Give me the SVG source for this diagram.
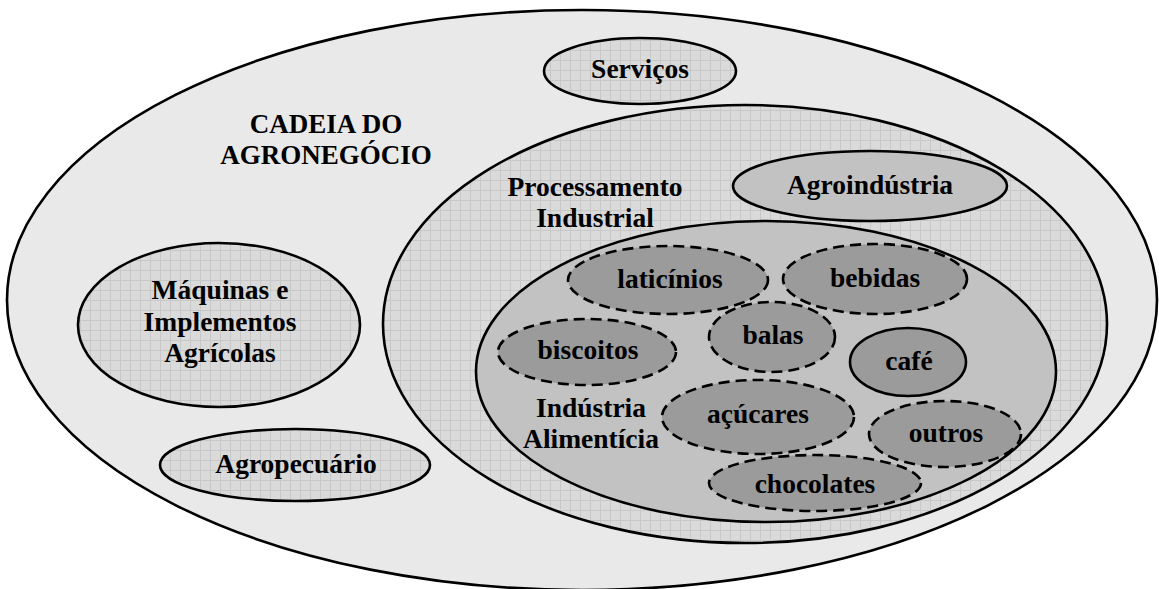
<svg xmlns="http://www.w3.org/2000/svg" width="1159" height="589" viewBox="0 0 1159 589">
<defs>
<pattern id="grid" width="10" height="10" patternUnits="userSpaceOnUse">
<rect width="10" height="10" fill="#dadada"/>
<path d="M0 0.5H10M0.5 0V10" stroke="#c8c8c8" stroke-width="1" fill="none"/>
</pattern>
<style>
.solid{stroke:#000;stroke-width:2.6}
.dash{stroke:#000;stroke-width:2.6;stroke-dasharray:11 6}
.outer{fill:#e9e9e9}
.gridf{fill:url(#grid)}
.mid{fill:#c2c2c2}
.dark{fill:#9b9b9b}
text{font-family:"Liberation Serif","Times New Roman",serif;font-weight:bold;font-size:27.5px;fill:#000;text-anchor:middle}
.title{font-size:27px}
</style>
</defs>
<rect width="1159" height="589" fill="#fff"/>
<g id="cadeia">
<ellipse class="outer solid" cx="582" cy="300" rx="575" ry="290"/>
<text class="title" x="326" y="133">CADEIA DO</text>
<text class="title" x="326" y="164">AGRONEGÓCIO</text>
</g>
<g id="servicos">
<ellipse class="gridf solid" cx="640" cy="71" rx="96" ry="33"/>
<text x="640" y="78">Serviços</text>
</g>
<g id="maquinas">
<ellipse class="gridf solid" cx="219" cy="325" rx="141" ry="82"/>
<text x="220" y="299">Máquinas e</text>
<text x="220" y="331">Implementos</text>
<text x="220" y="362">Agrícolas</text>
</g>
<g id="agropecuario">
<ellipse class="gridf solid" cx="295" cy="465" rx="135" ry="36"/>
<text x="296" y="473">Agropecuário</text>
</g>
<g id="processamento">
<ellipse class="gridf solid" cx="745" cy="324" rx="362" ry="219"/>
<text x="595" y="196">Processamento</text>
<text x="595" y="227">Industrial</text>
</g>
<g id="agroindustria">
<ellipse class="mid solid" cx="870" cy="186" rx="137" ry="35"/>
<text x="870" y="194">Agroindústria</text>
</g>
<g id="industria-alimenticia">
<ellipse class="mid solid" cx="766" cy="371.5" rx="290" ry="150.5"/>
<text x="591" y="417">Indústria</text>
<text x="591" y="448">Alimentícia</text>
</g>
<g id="laticinios">
<ellipse class="dark dash" cx="668" cy="280" rx="100" ry="34"/>
<text x="670" y="288">laticínios</text>
</g>
<g id="bebidas">
<ellipse class="dark dash" cx="875" cy="279" rx="92" ry="35"/>
<text x="875" y="287">bebidas</text>
</g>
<g id="biscoitos">
<ellipse class="dark dash" cx="587" cy="352" rx="89" ry="33"/>
<text x="588" y="359">biscoitos</text>
</g>
<g id="balas">
<ellipse class="dark dash" cx="772" cy="337" rx="63" ry="35"/>
<text x="773" y="344">balas</text>
</g>
<g id="cafe">
<ellipse class="dark solid" cx="908" cy="362" rx="58" ry="34"/>
<text x="909" y="370">café</text>
</g>
<g id="acucares">
<ellipse class="dark dash" cx="758" cy="417" rx="96" ry="37"/>
<text x="758" y="423">açúcares</text>
</g>
<g id="outros">
<ellipse class="dark dash" cx="945" cy="434" rx="76" ry="33"/>
<text x="946" y="442">outros</text>
</g>
<g id="chocolates">
<ellipse class="dark dash" cx="815" cy="483" rx="106" ry="28"/>
<text x="815" y="493">chocolates</text>
</g>
<g id="connectors"/>
</svg>
